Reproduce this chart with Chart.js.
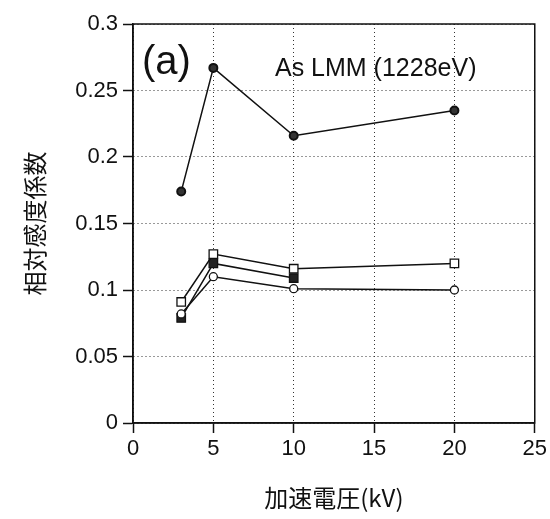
<!DOCTYPE html>
<html>
<head>
<meta charset="utf-8">
<script src="https://cdn.jsdelivr.net/npm/chart.js@4/dist/chart.umd.min.js"></script>
<style>
  html, body { margin: 0; padding: 0; background: #fff; }
</style>
</head>
<body>
<canvas id="chart" width="550" height="519"></canvas>
<script>
// data
var voltage = [3, 5, 10, 20];
var seriesTop = [0.174, 0.267, 0.216, 0.235];
var seriesOpenSquare = [0.091, 0.127, 0.116, 0.120];
var seriesFilledSquare = [0.079, 0.120, 0.109];
var seriesOpenCircle = [0.082, 0.110, 0.101, 0.100];

var xTicks = [0, 5, 10, 15, 20, 25];
var yTicks = [0, 0.05, 0.1, 0.15, 0.2, 0.25, 0.3];
var yTickLabels = ['0', '0.05', '0.1', '0.15', '0.2', '0.25', '0.3'];

var xTitle = '加速電圧(kV)';
var yTitle = '相対感度係数';
var panelLabel = '(a)';
var lineLabel = 'As LMM (1228eV)';

function pts(ys) {
	return ys.map(function (y, i) { return { x: voltage[i], y: y }; });
}

var ink = '#111';
var latin = "'Liberation Sans', Arial, sans-serif";
var cjk = "'Noto Sans CJK JP', 'Liberation Sans', sans-serif";

// frame + text inside the plot
var decor = {
	id: 'decor',
	afterDraw: function (chart) {
		var ctx = chart.ctx;
		var a = chart.chartArea;
		ctx.save();
		ctx.setLineDash([]);
		ctx.strokeStyle = ink;
		ctx.lineWidth = 1.5;
		ctx.strokeRect(a.left, a.top, a.right - a.left, a.bottom - a.top);
		ctx.fillStyle = ink;
		ctx.textBaseline = 'alphabetic';
		ctx.textAlign = 'left';
		ctx.font = '40px ' + latin;
		ctx.fillText(panelLabel, 142, 74);
		ctx.font = '25px ' + latin;
		ctx.fillText(lineLabel, 275, 76);
		ctx.restore();
	}
};

function line(data, style, radius, fill, bw) {
	return {
		data: pts(data),
		showLine: true,
		borderColor: ink,
		borderWidth: 1.5,
		pointStyle: style,
		pointRadius: radius,
		pointBorderWidth: bw,
		pointBackgroundColor: fill,
		pointBorderColor: ink
	};
}

var gridOpts = { color: '#333', lineWidth: 1, tickBorderDash: [], tickColor: ink, tickWidth: 1.5, tickLength: 10 };
var borderOpts = { color: ink, width: 1.5, dash: [1, 3] };

new Chart(document.getElementById('chart'), {
	type: 'scatter',
	data: {
		datasets: [
			line(seriesOpenCircle, 'circle', 4, '#fff', 1.3),
			line(seriesOpenSquare, 'rect', 6, '#fff', 1.3),
			line(seriesFilledSquare, 'rect', 6, '#222', 1.3),
			line(seriesTop, 'circle', 4, '#333', 2)
		]
	},
	options: {
		responsive: false,
		animation: false,
		devicePixelRatio: 1,
		layout: { padding: { top: 24, right: 15, left: 0, bottom: 0 } },
		plugins: { legend: { display: false }, tooltip: { enabled: false } },
		scales: {
			x: {
				type: 'linear',
				min: 0,
				max: 25,
				afterBuildTicks: function (s) { s.ticks = xTicks.map(function (v) { return { value: v }; }); },
				afterFit: function (s) { s.height = 96; },
				ticks: { color: ink, padding: 3, font: { family: latin, size: 22 }, maxRotation: 0,
					callback: function (v) { return String(v); } },
				grid: gridOpts,
				border: borderOpts,
				title: { display: true, text: xTitle, color: ink, font: { family: cjk, size: 24 }, padding: { bottom: 7 } }
			},
			y: {
				min: 0,
				max: 0.3,
				afterBuildTicks: function (s) { s.ticks = yTicks.map(function (v) { return { value: v }; }); },
				afterFit: function (s) { s.width = 133; },
				ticks: { color: ink, padding: 5, font: { family: latin, size: 22 },
					callback: function (v, i) { return yTickLabels[i]; } },
				grid: gridOpts,
				border: borderOpts,
				title: { display: true, text: yTitle, color: ink, font: { family: cjk, size: 24 }, padding: { top: 20 } }
			}
		}
	},
	plugins: [decor]
});
</script>
</body>
</html>
